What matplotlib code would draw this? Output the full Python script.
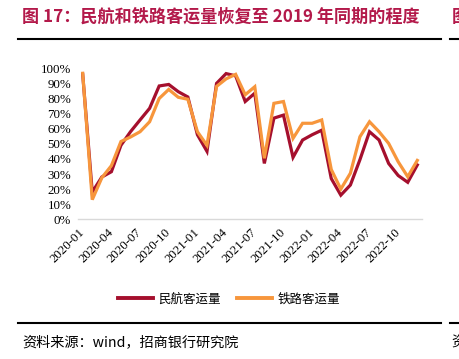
import numpy as np
import matplotlib
matplotlib.use("Agg")
import matplotlib.pyplot as plt
from matplotlib.lines import Line2D

CJK = ["Noto Sans CJK SC", "DejaVu Sans"]
SERIF = ["Liberation Serif", "DejaVu Serif"]

# 2020-01 .. 2022-12, monthly, recovery vs same period of 2019 (%)
months = [f"{y}-{m:02d}" for y in (2020, 2021, 2022) for m in range(1, 13)]
civil = [96, 18, 28, 31.5, 49, 58, 65.8, 73.5, 88.3, 89.3, 84.5, 81,
         56, 45, 90, 96.5, 95, 78, 83.5, 37, 67, 69, 41, 52.5,
         56, 59, 27, 16, 22.7, 39.5, 58, 52.5, 37, 29, 24.5, 36]
rail = [96.7, 13, 27.5, 35.5, 51.5, 54.5, 58, 64.6, 80, 86, 80.8, 79.5,
        58, 49, 88, 93, 96, 82.5, 87.8, 40.4, 76.8, 78, 53.6, 63.6,
        63.6, 65.8, 33, 20, 30.5, 54.7, 64.6, 58, 50.3, 38.1, 28.2, 39]
tick_idx = list(range(0, 36, 3))
yticks = list(range(0, 101, 10))

RED = "#A50F2D"
ORANGE = "#F7963C"
TITLE_C = "#B3194A"

W, H = 460, 359
fig = plt.figure(figsize=(W / 100, H / 100), dpi=100)

ax = fig.add_axes([78.3 / W, 1 - 219.3 / H, 343.4 / W, 151 / H])
x = np.arange(len(months))
ax.plot(x, civil, color=RED, lw=2.3, clip_on=False, solid_joinstyle="miter")
ax.plot(x, rail, color=ORANGE, lw=2.3, clip_on=False, solid_joinstyle="miter")

ax.set_xlim(-0.46, 35.46)
ax.set_ylim(0, 100)
ax.set_yticks(yticks)
ax.set_yticklabels([f"{v}%" for v in yticks], fontfamily=SERIF, fontsize=9.3)
ax.set_xticks(tick_idx)
ax.set_xticklabels([months[i] for i in tick_idx], fontfamily=SERIF, fontsize=9.3,
                   rotation=45, ha="right", va="center", rotation_mode="anchor")
ax.tick_params(axis="both", length=0)
ax.tick_params(axis="x", pad=8)
ax.tick_params(axis="y", pad=5)
for s in ["top", "right", "left"]:
    ax.spines[s].set_visible(False)
ax.spines["bottom"].set_color("#D9D9D9")
ax.spines["bottom"].set_linewidth(1)

handles = [Line2D([], [], color=RED, lw=2.8), Line2D([], [], color=ORANGE, lw=2.8)]
fig.legend(handles, ["民航客运量", "铁路客运量"], loc="center",
           bbox_to_anchor=(229 / W, 1 - 299 / H), ncol=2, frameon=False,
           handlelength=2.8, handletextpad=0.4, columnspacing=1.3,
           prop={"family": CJK, "size": 9})

# title and frame lines of the report page
fig.text(22 / W, 1 - 17 / H, "图 17：民航和铁路客运量恢复至 2019 年同期的程度",
         color=TITLE_C, fontsize=12.3, fontweight="bold", family=CJK,
         ha="left", va="center")
fig.text(452 / W, 1 - 17 / H, "图", color=TITLE_C, fontsize=12.3,
         fontweight="bold", family=CJK, ha="left", va="center")
for (x0, x1) in [(18, 441), (450, 460)]:
    fig.add_artist(Line2D([x0 / W, x1 / W], [1 - 39.3 / H] * 2, color="black", lw=1.5))
    fig.add_artist(Line2D([x0 / W, x1 / W], [1 - 323.3 / H] * 2, color="black", lw=1.5))

fig.text(22 / W, 1 - 342 / H, "资料来源：wind，招商银行研究院", fontsize=10.2,
         family=CJK, ha="left", va="center")
fig.text(451 / W, 1 - 342 / H, "资", fontsize=10.2, family=CJK, ha="left", va="center")

fig.savefig("out.png", dpi=100)
